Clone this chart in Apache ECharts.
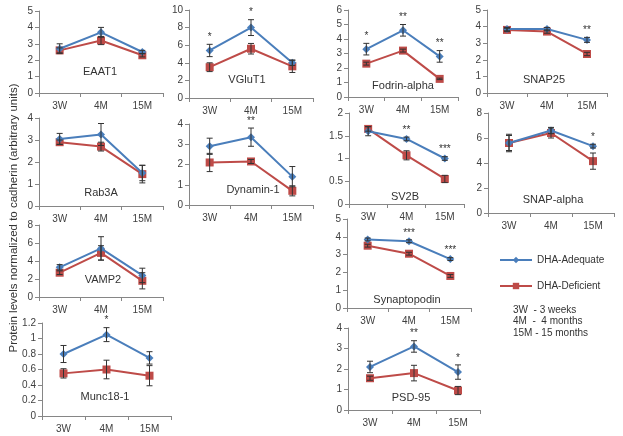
<!DOCTYPE html>
<html>
<head>
<meta charset="utf-8">
<script src="https://cdn.jsdelivr.net/npm/echarts@6/dist/echarts.min.js"></script>
<style>
  html, body { margin: 0; padding: 0; background: #ffffff; }
  #chart_example { width: 623px; height: 436px; }
</style>
</head>
<body>
<div id="chart_example"></div>
<script>
// x categories (same for every panel)
const categories = ["3W", "4M", "15M"];
const panelNames = ["EAAT1", "VGluT1", "Fodrin-alpha", "SNAP25", "Rab3A", "Dynamin-1",
  "SV2B", "SNAP-alpha", "VAMP2", "Synaptopodin", "Munc18-1", "PSD-95"];

// means, one row per panel
const adequate = [
  [2.7, 3.7, 2.5], [5.4, 8.0, 4.0], [3.3, 4.6, 2.8], [3.85, 3.85, 3.2],
  [3.05, 3.25, 1.5], [2.9, 3.35, 1.4], [1.6, 1.43, 1.0], [5.6, 6.6, 5.35],
  [3.3, 5.4, 2.4], [3.85, 3.75, 2.75], [0.8, 1.05, 0.75], [2.1, 3.1, 1.85]
];
const deficient = [
  [2.6, 3.2, 2.3], [3.5, 5.6, 3.6], [2.3, 3.2, 1.25], [3.8, 3.7, 2.35],
  [2.9, 2.7, 1.45], [2.1, 2.15, 0.7], [1.65, 1.07, 0.55], [5.6, 6.4, 4.15],
  [2.7, 4.9, 1.8], [3.5, 3.05, 1.8], [0.55, 0.6, 0.52], [1.55, 1.8, 0.95]
];
// error bars (+/-)
const adequateErr = [
  [0.3, 0.3, 0.1], [0.7, 0.9, 0.3], [0.4, 0.4, 0.4], [0.1, 0.1, 0.15],
  [0.25, 0.5, 0.35], [0.4, 0.45, 0.5], [0.1, 0.04, 0.04], [0.7, 0.25, 0.15],
  [0.3, 1.3, 0.8], [0.08, 0.08, 0.08], [0.11, 0.09, 0.08], [0.28, 0.28, 0.35]
];
const deficientErr = [
  [0.15, 0.25, 0.1], [0.5, 0.6, 0.7], [0.1, 0.1, 0.05], [0.1, 0.1, 0.1],
  [0.1, 0.2, 0.4], [0.45, 0.1, 0.25], [0.05, 0.1, 0.08], [0.6, 0.4, 0.65],
  [0.2, 0.8, 0.9], [0.08, 0.08, 0.08], [0.06, 0.12, 0.13], [0.1, 0.38, 0.2]
];
// significance marks
const stars = [
  ["", "", ""], ["*", "*", ""], ["*", "**", "**"], ["", "", "**"],
  ["", "", ""], ["", "**", ""], ["", "**", "***"], ["", "", "*"],
  ["", "", ""], ["", "***", "***"], ["", "*", ""], ["", "**", "*"]
];
const yMax = [5, 10, 6, 5, 4, 4, 2, 8, 8, 5, 1.2, 4];
const yStep = [1, 2, 1, 1, 1, 1, 0.5, 2, 2, 1, 0.2, 1];

// panel boxes [left, top, width, height] in px
const boxes = [
  [39, 11, 124, 82], [189, 10, 124, 88], [348, 10, 110, 87], [487, 10, 120, 83],
  [39, 118, 124, 88], [189, 124, 124, 81], [349, 113, 115, 91], [488, 113, 126, 100],
  [39, 225, 124, 72], [347, 219, 124, 89], [42, 323, 129, 93], [348, 328, 132, 82]
];
// name label centre [x, y]
const namePos = [
  [100, 72], [247, 80], [403, 86], [544, 80], [101, 193], [253, 190],
  [405, 197], [553, 200], [103, 280], [407, 300], [105, 397], [411, 398]
];

const blue = "#4a7ebb";
const red = "#be4b48";
const txt = "#404040";
const font = "Liberation Sans, Arial, sans-serif";

let grid = [], xAxis = [], yAxis = [], series = [], graphic = [];

/*error bars with caps*/
function errRender(params, api) {
  let x = api.value(0), m = api.value(1), e = api.value(2);
  let top = api.coord([x, m + e]);
  let bot = api.coord([x, m - e]);
  let st = { stroke: "#333", lineWidth: 1 };
  return {
    type: "group",
    children: [
      { type: "line", shape: { x1: top[0], y1: top[1], x2: bot[0], y2: bot[1] }, style: st },
      { type: "line", shape: { x1: top[0] - 3, y1: top[1], x2: top[0] + 3, y2: top[1] }, style: st },
      { type: "line", shape: { x1: bot[0] - 3, y1: bot[1], x2: bot[0] + 3, y2: bot[1] }, style: st }
    ]
  };
}

/*stars above the highest bar*/
function starRender(params, api) {
  let p = api.coord([api.value(0), api.value(1)]);
  return {
    type: "text",
    style: {
      x: p[0], y: p[1] - 2, text: api.value(2),
      align: "center", verticalAlign: "bottom",
      fill: "#333", font: "10px " + font
    }
  };
}

for (let i = 0; i < panelNames.length; i++) {
  let b = boxes[i];
  grid.push({ left: b[0], top: b[1], width: b[2], height: b[3], containLabel: false });
  xAxis.push({
    gridIndex: i, type: "category", data: categories,
    axisLine: { lineStyle: { color: "#868686" } },
    axisTick: { show: true, length: 4, lineStyle: { color: "#868686" } },
    axisLabel: { color: txt, fontSize: 10, fontFamily: font, margin: 8 }
  });
  yAxis.push({
    gridIndex: i, type: "value", min: 0, max: yMax[i], interval: yStep[i],
    splitLine: { show: false },
    axisLine: { show: true, lineStyle: { color: "#868686" } },
    axisTick: { show: true, length: 4, lineStyle: { color: "#868686" } },
    axisLabel: { color: txt, fontSize: 10, fontFamily: font, margin: 6 }
  });

  let errData = [], starData = [];
  for (let j = 0; j < categories.length; j++) {
    errData.push([j, adequate[i][j], adequateErr[i][j]]);
    errData.push([j, deficient[i][j], deficientErr[i][j]]);
    if (stars[i][j]) {
      let top = Math.max(adequate[i][j] + adequateErr[i][j], deficient[i][j] + deficientErr[i][j]);
      starData.push([j, top, stars[i][j]]);
    }
  }

  series.push({
    name: "DHA-Deficient", type: "line", xAxisIndex: i, yAxisIndex: i,
    data: deficient[i], symbol: "rect", symbolSize: 8, z: 2,
    lineStyle: { color: red, width: 2 }, itemStyle: { color: red },
    emphasis: { disabled: true }
  });
  series.push({
    name: "DHA-Adequate", type: "line", xAxisIndex: i, yAxisIndex: i,
    data: adequate[i], symbol: "diamond", symbolSize: 8, z: 3,
    lineStyle: { color: blue, width: 2 }, itemStyle: { color: blue },
    emphasis: { disabled: true }
  });
  series.push({
    type: "custom", xAxisIndex: i, yAxisIndex: i, z: 4,
    renderItem: errRender, data: errData, silent: true
  });
  series.push({
    type: "custom", xAxisIndex: i, yAxisIndex: i, z: 4,
    renderItem: starRender, data: starData, silent: true
  });

  // panel name
  graphic.push({
    type: "text", x: namePos[i][0], y: namePos[i][1],
    style: { text: panelNames[i], fill: "#333", font: "11px " + font, align: "center", verticalAlign: "middle" }
  });
}

// y title
graphic.push({
  type: "text", x: 14, y: 218, rotation: Math.PI / 2,
  style: {
    text: "Protein levels normalized to cadherin (arbitrary units)",
    fill: "#333", font: "11.5px " + font, align: "center", verticalAlign: "middle"
  }
});
// abbreviations
graphic.push({
  type: "text", x: 513, y: 304,
  style: {
    text: "3W  - 3 weeks\n4M  -  4 months\n15M - 15 months",
    fill: "#333", font: "10px " + font, lineHeight: 11.5
  }
});

let myChart = echarts.init(document.getElementById("chart_example"));
let option = {
  backgroundColor: "#ffffff",
  animation: false,
  textStyle: { fontFamily: font },
  legend: {
    orient: "vertical", left: 494, top: 250,
    data: ["DHA-Adequate", "DHA-Deficient"],
    itemWidth: 32, itemHeight: 8, itemGap: 16,
    textStyle: { color: "#333", fontSize: 10, fontFamily: font }
  },
  grid: grid,
  xAxis: xAxis,
  yAxis: yAxis,
  series: series,
  graphic: graphic
};
myChart.setOption(option);
</script>
</body>
</html>
